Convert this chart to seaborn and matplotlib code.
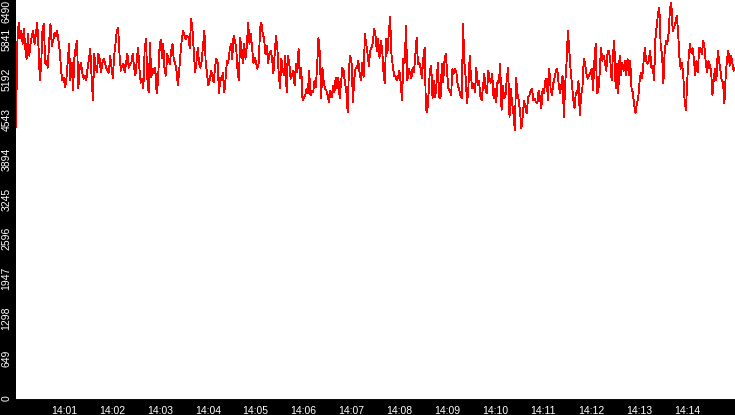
import matplotlib
matplotlib.use('Agg')
from matplotlib import pyplot as plt
from matplotlib import dates as mdates
from matplotlib import ticker
import seaborn as sns
import pandas as pd
import numpy as np

# =============================================================================
# values, 14:00 -> 14:15, six 2.5 minute stretches
# =============================================================================
part1 = [4413, 5793, 6117, 5874, 5987, 5776, 6020, 5695, 5533, 5939,
         5582, 5776, 5906, 5987, 5776, 5939, 6117, 5711, 5176, 5452,
         6020, 6101, 5452, 5500, 5387, 5825, 6101, 5744, 5825, 5955,
         5906, 5987, 5825, 5663, 5338, 5176, 5225, 5062, 5208, 5500,
         5776, 5176, 5468, 5014, 5549, 5711, 5825, 5046, 5387, 5468,
         5290, 5208, 5257, 5176, 5387, 5533, 5695, 5225, 4851, 5614,
         5387, 5306, 5614, 5533, 5306, 5452, 5533, 5468, 5387, 5338,
         5306, 5582, 5387, 5208, 5582, 5776, 5987, 6036, 5614, 5338,
         5419, 5452, 5306, 5468, 5614, 5387, 5452, 5468, 5614, 5387,
         5257]
part2 = [5500, 5711, 5387, 5143, 5208, 5046, 5695, 5857, 5208, 4981,
         5793, 5225, 5371, 5306, 5387, 4965, 5143, 5663, 5841, 5549,
         5776, 5338, 5257, 5614, 5500, 5452, 5663, 5776, 5500, 5468,
         5338, 5095, 5338, 5614, 5857, 5987, 5906, 5857, 5906, 5874,
         5711, 6182, 6020, 5663, 5306, 5468, 5711, 5468, 5387, 5500,
         5744, 5987, 5468, 5290, 5095, 5176, 5338, 5257, 5143, 5387,
         5533, 5468, 4965, 5225, 5176, 5306, 4981, 5208, 5500, 5468,
         5663, 5776, 5533, 5906, 5825, 5711, 5338, 5176, 5874, 5695,
         5468, 5776, 5533, 5744, 6117, 5776, 5939, 5711, 5468, 5549]
part3 = [5468, 5371, 5468, 6036, 6117, 5939, 5857, 5614, 5744, 5468,
         5614, 5663, 5549, 5290, 5614, 5906, 5711, 5306, 5046, 5533,
         5371, 5257, 5582, 4981, 5582, 5468, 5208, 5257, 5338, 5095,
         5452, 5306, 5695, 5208, 5387, 4851, 4900, 4932, 5046, 4965,
         5338, 4932, 5014, 4981, 5176, 5062, 5419, 5874, 5630, 4884,
         5387, 5143, 5046, 5014, 4932, 4819, 5014, 4900, 5095, 4981,
         5225, 5046, 5225, 4884, 5127, 5387, 5338, 5127, 5014, 4657,
         5387, 5582, 5452, 4819, 5208, 5371, 5387, 5500, 5306, 5176,
         5468, 5225, 5939, 5776, 5614, 5419, 5663, 5711, 5793, 6020]
part4 = [5906, 5663, 5857, 5549, 5825, 5695, 5306, 5127, 5857, 5630,
         5939, 6214, 5614, 5419, 5257, 5257, 5176, 5225, 5338, 5143,
         4851, 5533, 5468, 6068, 5176, 5371, 5306, 5208, 5387, 5306,
         5582, 5874, 5452, 5468, 5387, 5208, 5533, 5711, 4722, 4657,
         4965, 5338, 5419, 4884, 5176, 4900, 5127, 5468, 4900, 4884,
         5452, 5143, 5500, 5614, 5306, 5046, 5014, 4932, 5371, 5290,
         5371, 5306, 5095, 5046, 4932, 4884, 6101, 5468, 5225, 4803,
         5046, 5582, 5225, 5046, 5127, 4981, 5387, 5095, 5176, 4932,
         4851, 5062, 5290, 5014, 4965, 5338, 5208, 5143, 5290, 4884,
         5046]
part5 = [4819, 5176, 5143, 5452, 4689, 5095, 4884, 4932, 5208, 5387,
         4576, 5046, 4803, 4640, 4365, 5225, 4965, 4851, 4657, 4397,
         4608, 4851, 4738, 4640, 4900, 4932, 5014, 5046, 4851, 4884,
         4819, 4803, 5014, 4900, 4722, 5046, 4965, 5176, 5208, 4851,
         5371, 5046, 4932, 5127, 5225, 5338, 5371, 5127, 4965, 5095,
         5257, 4576, 5127, 5468, 5987, 5695, 5371, 5143, 4884, 4722,
         4981, 4965, 5176, 4608, 4932, 5062, 5533, 5452, 5290, 5208,
         5257, 5306, 5371, 5014, 5500, 5776, 4965, 5014, 5306, 5711,
         5500, 5582, 5468, 5338, 5663, 5663, 5500, 5176, 5614, 5825,
         5046]
part6 = [5452, 4965, 5582, 5257, 5468, 5338, 5500, 5257, 5533, 5257,
         5500, 5046, 4981, 4770, 4640, 4803, 4884, 5143, 5306, 5208,
         5468, 5711, 5500, 5452, 5500, 5663, 5387, 5419, 5176, 5857,
         6068, 6279, 6360, 5711, 5614, 5127, 5663, 5825, 5776, 5955,
         6360, 6441, 5987, 6036, 6117, 6230, 6020, 5582, 5371, 5468,
         5257, 4851, 4689, 5176, 5533, 5776, 5630, 5711, 5533, 5257,
         5500, 5306, 5711, 5695, 5614, 5825, 5711, 5452, 5306, 5500,
         5419, 5338, 4932, 5208, 5371, 5176, 5663, 5500, 5338, 5176,
         5143, 4803, 5257, 5533, 5663, 5419, 5582, 5468, 5338, 5387]

values = part1 + part2 + part3 + part4 + part5 + part6
times = pd.date_range('2020-02-01 14:00:00', '2020-02-01 14:15:00', periods=len(values))

y_max = 6490
y_ticks = [0, 649, 1298, 1947, 2596, 3245, 3894, 4543, 5192, 5841, 6490]

# =============================================================================
# drawing
# =============================================================================
sns.set_style('white')
plt.rcParams['font.family'] = 'sans-serif'
plt.rcParams['font.sans-serif'] = ['Liberation Sans', 'DejaVu Sans']

fig = plt.figure(figsize=(7.35, 4.15), dpi=100, facecolor='black')
ax = fig.add_axes([16/735, 17/415, 719/735, 398/415])
ax.set_facecolor('white')

df = pd.DataFrame({'time': times, 'value': values})
sns.lineplot(data=df, x='time', y='value', color='#ff0000', linewidth=0.6,
             estimator=None, antialiased=False, ax=ax)

ax.set_xlim(times[0], times[-1])
ax.set_ylim(0, y_max)
ax.set_xlabel('')
ax.set_ylabel('')

ax.xaxis.set_major_locator(mdates.MinuteLocator(byminute=range(1, 15)))
ax.xaxis.set_major_formatter(mdates.DateFormatter('%H:%M'))
ax.yaxis.set_major_locator(ticker.FixedLocator(y_ticks))
ax.yaxis.set_major_formatter(ticker.FuncFormatter(lambda v, p: '%d' % v))

ax.tick_params(axis='x', colors='white', labelcolor='white', length=3.6, width=0.8,
               pad=2, labelsize=7.5, direction='out')
ax.tick_params(axis='y', colors='white', labelcolor='white', length=3.3, width=0.8,
               pad=0, labelsize=7.5, direction='out')
for lbl in ax.get_yticklabels():
    lbl.set_rotation(90)
    lbl.set_va('center')
ax.get_yticklabels()[-1].set_va('top')

for side in ['top', 'right', 'left']:
    ax.spines[side].set_visible(False)
ax.spines['bottom'].set_color('white')
ax.spines['bottom'].set_linewidth(0.8)

fig.savefig('out.png', dpi=100, facecolor=fig.get_facecolor())
